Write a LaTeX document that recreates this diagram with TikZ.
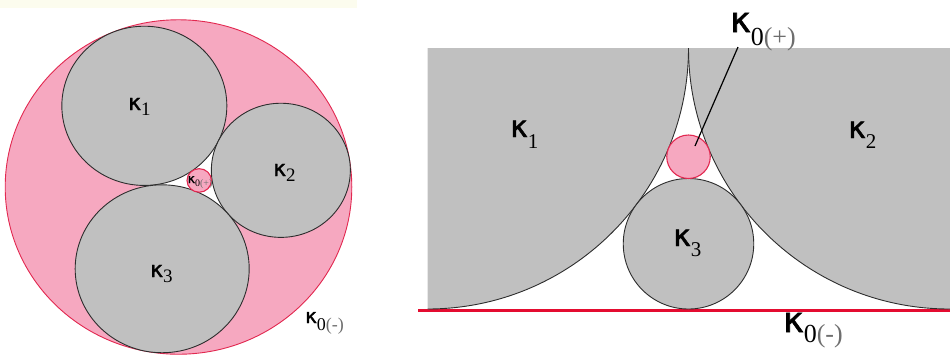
\documentclass[tikz,border=0pt]{standalone}
\usepackage{fontspec}
\setmainfont{Liberation Serif}
\newfontfamily\kfont{DejaVu Sans}[BoldFont={DejaVu Sans}, BoldFeatures={FakeBold=1.6}]
\definecolor{pinkfill}{RGB}{246,168,192}
\definecolor{pinkedge}{RGB}{226,40,80}
\definecolor{greyfill}{RGB}{192,192,192}
\definecolor{greyedge}{RGB}{45,45,45}
\definecolor{redline}{RGB}{228,12,48}
\definecolor{cream}{RGB}{252,252,238}
\definecolor{paren}{RGB}{110,110,110}
\newcommand{\klab}[4]{{\fontsize{#1}{#1}\selectfont\kfont\bfseries κ}\raisebox{-#4pt}{\fontsize{#2}{#2}\selectfont #3}}
\tikzset{
  greydisc/.style={fill=greyfill, draw=greyedge, line width=0.9pt},
  pinkdisc/.style={fill=pinkfill, draw=pinkedge, line width=1.1pt},
  lab/.style={inner sep=0pt, anchor=base west}
}
\begin{document}
\begin{tikzpicture}[x=1pt,y=-1pt]
\useasboundingbox (0,0) rectangle (950,360);
\fill[cream] (0,0) rectangle (357,8);
% ---------- left panel: Descartes configuration ----------
\begin{scope}[shift={(178.5,187)}, yscale=-0.965]
  \fill[pinkfill] (0,0) circle (173.3);
  \draw[pinkedge, line width=0.9pt] (0,0) circle (173.3);
  \coordinate (c1) at (-34.16,84.13);
  \coordinate (c2) at (102.35,17.31);
  \coordinate (c3) at (-16.32,-84.74);
  \fill[white] (c1) -- (c2) -- (c3) -- cycle;
  \draw[greydisc] (c1) circle (82.5);
  \draw[greydisc] (c2) circle (69.5);
  \draw[greydisc] (c3) circle (87);
  \draw[pinkdisc] (20.7,6.8) circle (12.2);
\end{scope}
\node[lab] (Lk1) at (128,110) {\klab{22}{19}{1}{5}};
\node[lab] (Lk2) at (273,176) {\klab{22}{19}{2}{5}};
\node[lab] (Lk3) at (150,277) {\klab{22}{19}{3}{5}};
\node[lab] (Lk0m) at (305,323) {\klab{20}{18}{0{\color{paren}(-)}}{7}};
\node[lab] (Lk0p) at (187.5,183) {\klab{12.5}{10}{0{\color{paren}(+)}}{3}};
% ---------- right panel: Ford-type configuration ----------
\draw[redline, line width=3pt] (418,310) -- (950,310);
\begin{scope}
  \clip (427.5,48) rectangle (950,309);
  \fill[greyfill] (427.5,48) circle (261);
  \fill[greyfill] (949.5,48) circle (261);
  \draw[greyedge, line width=0.9pt] (427.5,48) circle (261);
  \draw[greyedge, line width=0.9pt] (949.5,48) circle (261);
\end{scope}
\draw[greydisc] (688.5,243.75) circle (65.25);
\draw[pinkdisc] (688.5,156.75) circle (21.75);
\coordinate (tip) at (738,47);
\coordinate (pk) at (695,146);
\draw[line width=1.2pt] (tip) -- (pk);
\node[lab] (Rk1) at (510,137) {\klab{30}{21}{1}{11}};
\node[lab] (Rk2) at (848,138) {\klab{30}{21}{2}{10}};
\node[lab] (Rk3) at (673,246) {\klab{30}{21}{3}{10}};
\node[lab] (Rk0p) at (730,32) {\klab{35}{26}{0{\color{paren}(+)}}{13}};
\node[lab] (Rk0m) at (783,332) {\klab{35}{26}{0{\color{paren}(-)}}{10}};
\end{tikzpicture}
\end{document}
